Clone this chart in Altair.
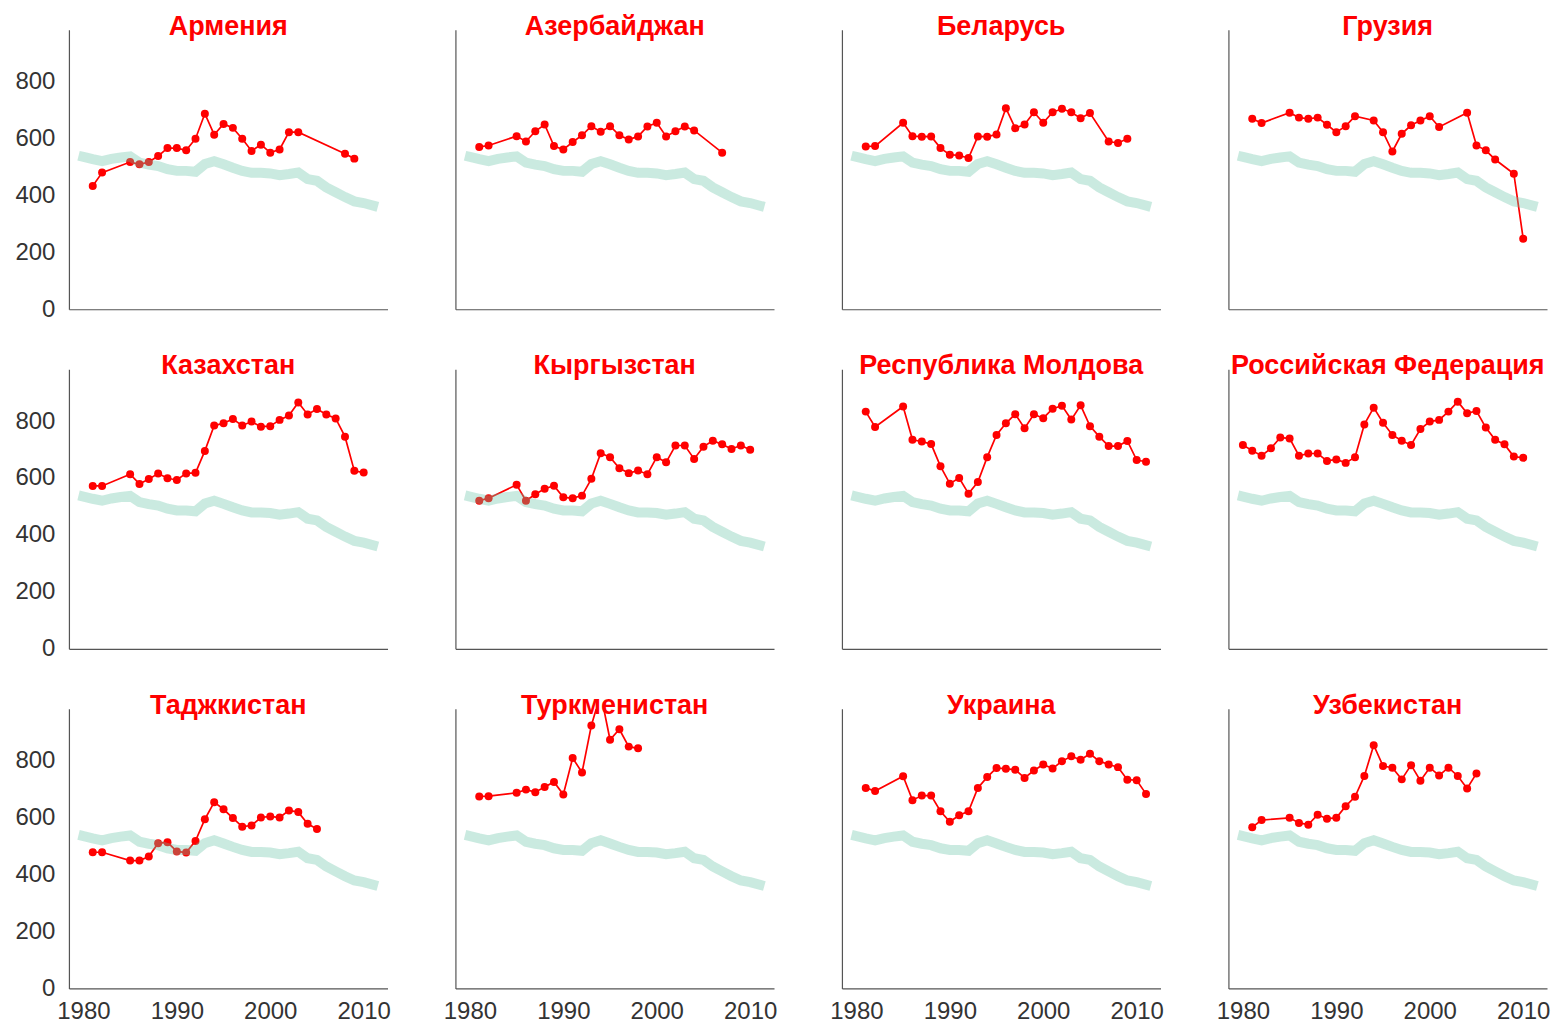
import altair as alt
import pandas as pd

YEARS = list(range(1980, 2012))

# reference series (thick light teal line, identical in every panel)
REFERENCE = [535, 527, 520, 528, 533, 537, 515, 508, 503, 492, 486, 486, 483, 510, 520, 509,
             497, 486, 479, 479, 477, 471, 475, 480, 457, 451, 428, 411, 394, 379, 373, 364]

COUNTRIES = ["Армения", "Азербайджан", "Беларусь", "Грузия",
             "Казахстан", "Кыргызстан", "Республика Молдова", "Российская Федерация",
             "Таджкистан", "Туркменистан", "Украина", "Узбекистан"]

N = None
#            1980 1981 1982 1983 1984 1985 1986 1987 1988 1989 1990 1991 1992 1993 1994 1995 1996 1997 1998 1999 2000 2001 2002 2003 2004 2005 2006 2007 2008 2009 2010 2011
ARMENIA    = [N,  433, 480, N,   N,   517, 509, 517, 538, 566, 566, 558, 599, 687, 613, 651, 637, 599, 556, 578, 550, 561, 622, 622, N,   N,   N,   N,   546, 529, N,   N]
AZERBAIJAN = [N,  570, 575, N,   N,   608, 589, 625, 649, 573, 561, 587, 611, 643, 623, 643, 611, 596, 607, 642, 655, 607, 625, 642, 628, N,   N,   550, N,   N,   N,   N]
BELARUS    = [N,  572, 573, N,   N,   655, 608, 606, 607, 566, 543, 540, 531, 607, 606, 614, 706, 636, 649, 692, 655, 692, 704, 692, 671, 689, N,   589, 584, 599, N,   N]
GEORGIA    = [N,  669, 654, N,   N,   690, 673, 669, 673, 648, 622, 643, 678, N,   663, 622, 554, 616, 646, 663, 678, 640, N,   N,   690, 575, 558, 526, N,   476, 248, N]
KAZAKHSTAN = [N,  572, 572, N,   N,   613, 579, 596, 616, 599, 593, 616, 618, 695, 784, 792, 807, 784, 798, 780, 782, 804, 819, 865, 823, 842, 823, 809, 745, 625, 619, N]
KYRGYZSTAN = [N,  520, 529, N,   N,   576, 520, 543, 562, 573, 532, 529, 538, 597, 687, 673, 634, 617, 626, 613, 673, 655, 714, 714, 667, 710, 731, 718, 702, 714, 699, N]
MOLDOVA    = [N,  833, 779, N,   N,   851, 734, 728, 719, 641, 580, 600, 545, 586, 673, 751, 792, 824, 775, 824, 810, 843, 854, 805, 855, 782, 745, 712, 712, 730, 663, 657]
RUSSIA     = [716, 696, 678, 704, 742, 739, 678, 686, 686, 660, 665, 653, 673, 788, 847, 794, 751, 731, 716, 772, 798, 804, 833, 868, 827, 835, 777, 734, 718, 675, 671, N]
TAJIKISTAN = [N,  478, 478, N,   N,   449, 449, 463, 510, 513, 481, 477, 518, 594, 654, 629, 598, 568, 572, 600, 604, 600, 625, 619, 578, 560, N,   N,   N,   N,   N,   N]
TURKMENISTAN = [N, 674, 675, N,  N,   687, 698, 689, 707, 725, 681, 809, 758, 923, 1035, 873, 910, 849, 843, N,  N,   N,   N,   N,   N,   N,   N,   N,   N,   N,   N,   N]
UKRAINE    = [N,  704, 693, N,   N,   745, 661, 677, 677, 622, 585, 608, 622, 704, 742, 774, 771, 768, 739, 765, 786, 772, 798, 815, 803, 824, 798, 786, 777, 733, 731, 683]
UZBEKISTAN = [N,  566, 591, N,   N,   599, 581, 575, 610, 596, 599, 640, 673, 746, 854, 781, 775, 734, 784, 729, 775, 748, 775, 746, 702, 755, N,   N,   N,   N,   N,   N]

SERIES = [ARMENIA, AZERBAIJAN, BELARUS, GEORGIA, KAZAKHSTAN, KYRGYZSTAN,
          MOLDOVA, RUSSIA, TAJIKISTAN, TURKMENISTAN, UKRAINE, UZBEKISTAN]

X_TICKS = [1980, 1990, 2000, 2010]
Y_TICKS = [0, 200, 400, 600, 800]
X_DOMAIN = [1978.45, 2012.55]
Y_DOMAIN = [0, 982]

rows = []
for name, vals in zip(COUNTRIES, SERIES):
    for yr, v in zip(YEARS, vals):
        if v is not None:
            rows.append({"country": name, "year": yr, "value": v})
df = pd.DataFrame(rows)
ref = pd.DataFrame({"year": YEARS, "value": REFERENCE})

FONT = "Liberation Sans"
RED = "#ff0000"
TEAL = "#66c2a5"
W, H = 319, 280


def panel(i, name):
    r, c = divmod(i, 4)
    x = alt.X("year:Q",
              scale=alt.Scale(domain=X_DOMAIN, nice=False, zero=False),
              axis=alt.Axis(values=X_TICKS, format="d", labels=(r == 2), title=None,
                            ticks=False, tickSize=0, grid=False, labelPadding=11,
                            labelFlush=False, labelOverlap=False))
    y = alt.Y("value:Q",
              scale=alt.Scale(domain=Y_DOMAIN, nice=False, zero=True),
              axis=alt.Axis(values=Y_TICKS, labels=(c == 0), title=None,
                            ticks=False, tickSize=0, grid=False, labelPadding=14,
                            labelFlush=False, labelOverlap=False))
    sub = df[df["country"] == name]
    base = alt.Chart(sub).encode(x=x, y=y)
    line = base.mark_line(color=RED, strokeWidth=1.7, clip=True)
    pts = base.mark_circle(color=RED, size=64, opacity=1, clip=True)
    band = alt.Chart(ref).mark_line(color=TEAL, strokeWidth=10, opacity=0.35,
                                    strokeCap="square").encode(x=x, y=y)
    title = alt.Chart(pd.DataFrame({"country": [name]})).mark_text(
        color=RED, fontSize=27, fontWeight="bold", font=FONT,
        align="center", baseline="alphabetic",
    ).encode(text="country:N", x=alt.value(W / 2), y=alt.value(5))
    return alt.layer(line, pts, band, title).properties(width=W, height=H)


panels = [panel(i, n) for i, n in enumerate(COUNTRIES)]
grid = alt.concat(
    *panels, columns=4, spacing={"row": 60, "column": 68}, bounds="flush",
).properties(
    padding={"left": 6, "top": 4, "right": 0, "bottom": 0},
    background="white",
).configure_view(
    stroke=None
).configure_axis(
    labelFont=FONT, labelFontSize=24, labelColor="#333333",
    domainColor="#555555", domainWidth=1.2,
)

grid.save("out.html", embed_options={"renderer": "svg", "actions": False})
